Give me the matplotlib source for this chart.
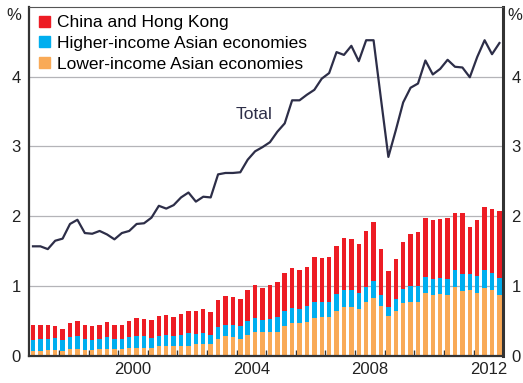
import numpy as np
import matplotlib
matplotlib.use("Agg")
import matplotlib.pyplot as plt
from matplotlib.patches import Patch

plt.rcParams["font.family"] = ["Liberation Sans", "DejaVu Sans"]

# quarterly, 1997 Q1 to 2012 Q4
lower_income = [0.07, 0.07, 0.08, 0.09, 0.07, 0.10, 0.10, 0.08, 0.09, 0.10, 0.10, 0.10, 0.10, 0.11, 0.11, 0.11,
                0.12, 0.14, 0.14, 0.14, 0.14, 0.15, 0.17, 0.17, 0.17, 0.24, 0.28, 0.27, 0.25, 0.30, 0.34, 0.34,
                0.34, 0.35, 0.43, 0.47, 0.47, 0.48, 0.54, 0.56, 0.56, 0.64, 0.70, 0.70, 0.67, 0.77, 0.83, 0.71,
                0.57, 0.64, 0.76, 0.78, 0.78, 0.90, 0.87, 0.89, 0.87, 0.99, 0.93, 0.94, 0.90, 0.97, 0.94, 0.87]
higher_income = [0.16, 0.17, 0.16, 0.17, 0.16, 0.17, 0.18, 0.16, 0.14, 0.14, 0.17, 0.14, 0.14, 0.16, 0.17, 0.17,
                 0.14, 0.14, 0.16, 0.14, 0.16, 0.18, 0.14, 0.16, 0.13, 0.17, 0.17, 0.17, 0.18, 0.20, 0.20, 0.17,
                 0.19, 0.21, 0.21, 0.21, 0.20, 0.23, 0.23, 0.22, 0.21, 0.25, 0.24, 0.24, 0.23, 0.22, 0.24, 0.16,
                 0.13, 0.17, 0.20, 0.22, 0.22, 0.23, 0.23, 0.23, 0.23, 0.24, 0.24, 0.23, 0.24, 0.26, 0.25, 0.25]
china_hk = [0.21, 0.21, 0.21, 0.17, 0.15, 0.20, 0.22, 0.20, 0.20, 0.21, 0.21, 0.21, 0.21, 0.23, 0.26, 0.25,
            0.25, 0.29, 0.28, 0.28, 0.30, 0.31, 0.33, 0.34, 0.33, 0.39, 0.41, 0.40, 0.38, 0.44, 0.48, 0.46,
            0.48, 0.50, 0.55, 0.58, 0.56, 0.56, 0.65, 0.62, 0.65, 0.68, 0.75, 0.74, 0.70, 0.80, 0.85, 0.66,
            0.52, 0.58, 0.67, 0.75, 0.78, 0.85, 0.85, 0.84, 0.88, 0.82, 0.88, 0.68, 0.81, 0.90, 0.92, 0.96]
total = [1.57, 1.57, 1.53, 1.65, 1.68, 1.89, 1.95, 1.76, 1.75, 1.79, 1.74, 1.67, 1.76, 1.79, 1.89, 1.90,
         1.98, 2.15, 2.11, 2.16, 2.27, 2.34, 2.21, 2.28, 2.27, 2.60, 2.62, 2.62, 2.63, 2.81, 2.93, 2.99,
         3.06, 3.21, 3.33, 3.66, 3.66, 3.74, 3.81, 3.97, 4.05, 4.35, 4.31, 4.44, 4.22, 4.52, 4.52, 3.68,
         2.85, 3.23, 3.63, 3.84, 3.90, 4.23, 4.03, 4.11, 4.24, 4.14, 4.13, 3.99, 4.28, 4.52, 4.32, 4.48]

year_labels = [2000, 2004, 2008, 2012]

red = "#ed1c24"
blue = "#00aeef"
orange = "#f9aa57"
navy = "#2d2e48"

x = 1997 + (np.arange(len(total)) + 0.5) / 4
lower_income = np.array(lower_income)
higher_income = np.array(higher_income)
china_hk = np.array(china_hk)

fig = plt.figure(figsize=(5.23, 3.83), dpi=100)
ax = fig.add_axes([0.056, 0.0705, 0.906, 0.912])

w = 0.15
ax.bar(x, lower_income, w, color=orange, zorder=2)
ax.bar(x, higher_income, w, bottom=lower_income, color=blue, zorder=2)
ax.bar(x, china_hk, w, bottom=lower_income + higher_income, color=red, zorder=2)
ax.plot(x, total, color=navy, lw=1.6, zorder=3)

ax.set_xlim(1997, 2013)
ax.set_ylim(0, 5)
ax.set_yticks([0, 1, 2, 3, 4])
for yv in [1, 2, 3, 4]:
    ax.axhline(yv, color="#b4b4b8", lw=0.9, zorder=1)

ax.set_xticks([y + 0.5 for y in year_labels])
ax.set_xticklabels([str(y) for y in year_labels])
ax.set_xticks(range(1998, 2013), minor=True)
ax.tick_params(axis="x", which="major", length=0, pad=4, labelsize=12, colors="#222222")
ax.tick_params(axis="x", which="minor", direction="in", length=4, width=1, color="#333333")
ax.tick_params(axis="y", length=0, labelsize=12, colors="#222222", labelleft=True, labelright=True, pad=6)

for side in ["left", "right", "bottom"]:
    ax.spines[side].set_color("#333333")
    ax.spines[side].set_linewidth(1.6)
ax.spines["right"].set_linewidth(2.2)
ax.spines["top"].set_color("#555555")
ax.spines["top"].set_linewidth(0.8)

ax.text(-0.032, 0.975, "%", transform=ax.transAxes, ha="center", va="center", fontsize=12, color="#222222")
ax.text(1.025, 0.975, "%", transform=ax.transAxes, ha="center", va="center", fontsize=12, color="#222222")

ax.text(2004.6, 3.45, "Total", fontsize=12.5, color=navy, ha="center", va="center")

handles = [Patch(color=red), Patch(color=blue), Patch(color=orange)]
labels = ["China and Hong Kong", "Higher-income Asian economies", "Lower-income Asian economies"]
ax.legend(handles, labels, loc="upper left", bbox_to_anchor=(0.021, 0.975), frameon=False, fontsize=12.5,
          handlelength=0.6, handleheight=0.6, handletextpad=0.45, labelspacing=0.32, borderpad=0,
          borderaxespad=0)

fig.savefig("out.png", dpi=100)
